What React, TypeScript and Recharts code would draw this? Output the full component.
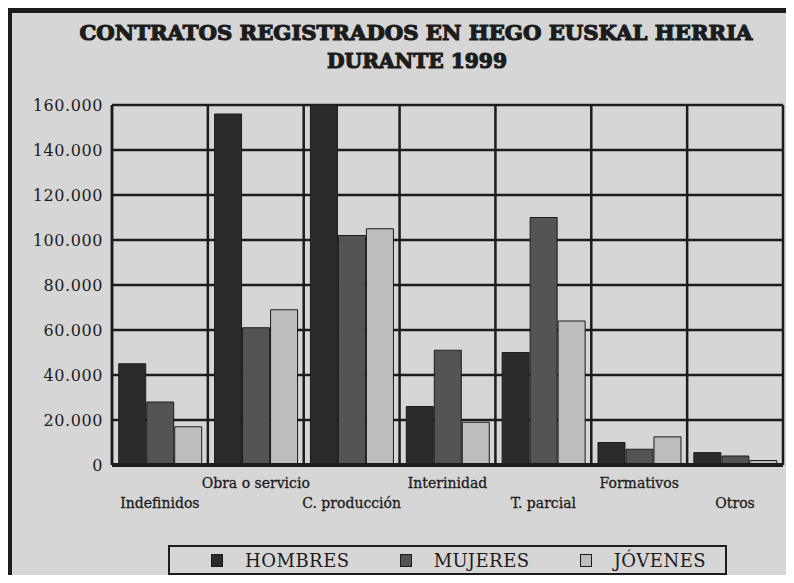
import React from 'react';
import {
  BarChart, Bar, XAxis, YAxis, CartesianGrid, Legend,
} from 'recharts';

const categorias = ['Indefinidos', 'Obra o servicio', 'C. producción', 'Interinidad', 'T. parcial', 'Formativos', 'Otros'];
const hombres = [45000, 156000, 160000, 26000, 50000, 10000, 5500];
const mujeres = [28000, 61000, 102000, 51000, 110000, 7000, 4000];
const jovenes = [17000, 69000, 105000, 19000, 64000, 12500, 2000];
const yTicks = [0, 20000, 40000, 60000, 80000, 100000, 120000, 140000, 160000];

const series = [
  { key: 'hombres', name: 'HOMBRES', fill: '#2b2b2b' },
  { key: 'mujeres', name: 'MUJERES', fill: '#545454' },
  { key: 'jovenes', name: 'JÓVENES', fill: '#bdbdbd' },
];

const data = categorias.map((c, i) => ({
  categoria: c,
  hombres: hombres[i],
  mujeres: mujeres[i],
  jovenes: jovenes[i],
}));

const INK = '#1c1c1c';
const PAPER = '#d6d6d6';
const SERIF = '"DejaVu Serif", "Liberation Serif", serif';

const fmt = (v: number) => v === 0 ? '0' : v.toLocaleString('de-DE');

function StaggeredTick({ x, y, payload, index }: any) {
  const dy = index % 2 === 1 ? 23 : 43;
  return (
    <text x={x} y={y + dy} textAnchor="middle" fill={INK} fontFamily={SERIF} fontSize={14}
      stroke={INK} strokeWidth={0.3}>
      {payload.value}
    </text>
  );
}

function LegendBox() {
  return (
    <div style={{
      width: 559, height: 30, border: `2px solid ${INK}`, boxSizing: 'border-box',
      display: 'flex', alignItems: 'center', fontFamily: SERIF, fontSize: 18, color: INK,
      letterSpacing: 0.5,
    }}>
      {series.map((s, i) => (
        <div key={s.key} style={{ display: 'flex', alignItems: 'center', marginLeft: i === 0 ? 41 : 50 }}>
          <span style={{
            display: 'inline-block', width: 12, height: 13, background: s.fill,
            border: `1px solid ${INK}`, boxSizing: 'border-box', marginRight: 22,
          }} />
          <span>{s.name}</span>
        </div>
      ))}
    </div>
  );
}

export default function App() {
  return (
    <div style={{ margin: -8, width: 794, height: 583, position: 'relative', background: PAPER, overflow: 'hidden' }}>
      <div style={{
        position: 'absolute', left: 7, top: 8, width: 800, height: 573,
        borderTop: `5px solid ${INK}`, borderLeft: `5px solid ${INK}`, borderBottom: `1px solid #555`,
      }} />
      <svg width={794} height={80} style={{ position: 'absolute', left: 0, top: 0 }}>
        <text x={416} y={40} textAnchor="middle" fontFamily={SERIF} fontWeight="bold" fontSize={21}
          fill={INK} stroke={INK} strokeWidth={1.2} textLength={673} lengthAdjust="spacingAndGlyphs">
          CONTRATOS REGISTRADOS EN HEGO EUSKAL HERRIA
        </text>
        <text x={417} y={68} textAnchor="middle" fontFamily={SERIF} fontWeight="bold" fontSize={21}
          fill={INK} stroke={INK} strokeWidth={1.2} textLength={180} lengthAdjust="spacingAndGlyphs">
          DURANTE 1999
        </text>
      </svg>
      <div style={{ position: 'absolute', left: 0, top: 0 }}>
        <BarChart width={794} height={583} data={data}
          margin={{ top: 105, right: 11, left: 0, bottom: 68 }}
          barCategoryGap="7%" barGap={1}>
          <CartesianGrid stroke={INK} strokeWidth={2.5} horizontal vertical
            verticalCoordinatesGenerator={({ offset }: any) =>
              categorias.map((_, i) => offset.left + (i * offset.width) / categorias.length)
                .concat(offset.left + offset.width)} />
          <XAxis dataKey="categoria" height={50} interval={0} tickLine={false} tickSize={0} tickMargin={0}
            axisLine={{ stroke: INK, strokeWidth: 4 }} tick={<StaggeredTick />} />
          <YAxis width={112} domain={[0, 160000]} ticks={yTicks} tickFormatter={fmt} tickLine={false}
            tickSize={0} tickMargin={9} axisLine={{ stroke: INK, strokeWidth: 2.5 }}
            tick={{ fill: INK, fontFamily: SERIF, fontSize: 16, letterSpacing: 0.6 }} />
          <Legend layout="horizontal" verticalAlign="middle" align="center" content={<LegendBox />}
            wrapperStyle={{ position: 'absolute', left: 168, top: 545, width: 559, height: 30 }} />
          {series.map((s) => (
            <Bar key={s.key} dataKey={s.key} name={s.name} fill={s.fill} stroke={INK} strokeWidth={1}
              isAnimationActive={false} />
          ))}
        </BarChart>
      </div>
    </div>
  );
}
